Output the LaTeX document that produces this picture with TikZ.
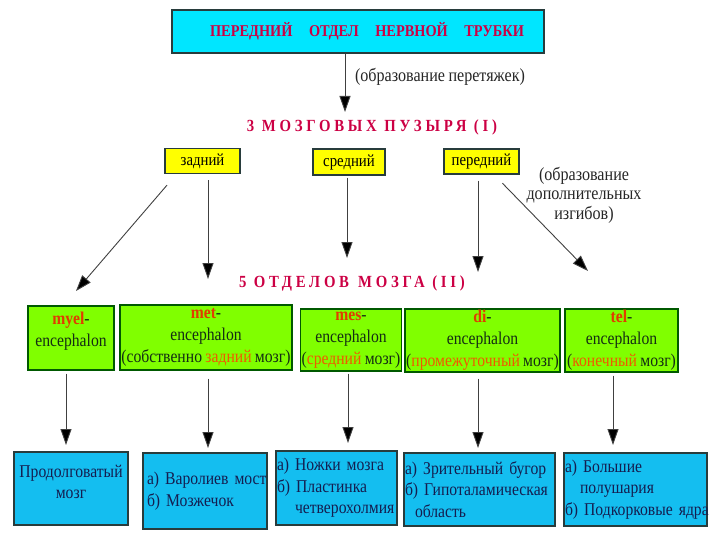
\documentclass[tikz,border=0pt]{standalone}
\usepackage{fontspec}
\setmainfont[FakeStretch=0.87,WordSpace=0.85]{Liberation Serif}
\newfontfamily\spacedfont[FakeStretch=0.87,LetterSpace=22]{Liberation Serif}
\usetikzlibrary{arrows.meta}
\definecolor{crimson}{RGB}{204,0,68}
\definecolor{topfill}{RGB}{0,230,255}
\definecolor{bluefill}{RGB}{20,190,240}
\definecolor{greenfill}{RGB}{128,255,0}
\definecolor{yellowfill}{RGB}{255,255,0}
\definecolor{pretext}{RGB}{225,60,0}
\definecolor{acctext}{RGB}{240,90,0}
\definecolor{darkgreen}{RGB}{20,45,20}
\definecolor{navytext}{RGB}{20,30,80}
\definecolor{boxline}{RGB}{40,60,60}
\newcommand{\pre}[1]{\textbf{\textcolor{pretext}{#1}}}
\newcommand{\acc}[1]{\textcolor{acctext}{#1}}
\newcommand{\bline}[1]{\mbox{#1}}
\tikzset{
  basebox/.style={draw=boxline, line width=1.2pt, inner sep=1pt},
  topbox/.style={basebox, fill=topfill, minimum width=372pt, minimum height=43pt,
     font=\fontsize{16.5}{19}\selectfont\bfseries, text=crimson},
  ybox/.style={basebox, fill=yellowfill, minimum height=25pt,
     font=\fontsize{17}{20}\selectfont, text=black},
  gbox/.style={basebox, draw=green!35!black, fill=greenfill, align=center,
     font=\fontsize{18}{22}\selectfont, text=darkgreen},
  bbox/.style={basebox, fill=bluefill, align=left,
     font=\fontsize{18}{21.5}\selectfont, text=navytext},
  heading/.style={font=\fontsize{17}{20}\selectfont\spacedfont\bfseries, text=crimson},
  note/.style={font=\fontsize{18.5}{19.5}\selectfont, text=black!85, align=center},
  arr/.style={draw=black!75, line width=0.9pt, -{Triangle[width=11pt,length=16pt,fill=black]}}
}
\begin{document}
\begin{tikzpicture}[x=1pt,y=-1pt]
\useasboundingbox (0,0) rectangle (720,540);

% top
\node[topbox] (top) at (358,31.5) {\hspace*{18pt}ПЕРЕДНИЙ\quad ОТДЕЛ\quad НЕРВНОЙ\quad ТРУБКИ};
\coordinate (pz) at (345,112);
\draw[arr] (top.south -| pz) -- (pz);
\node[note] (lab1) at (440,77) {(образование перетяжек)};
\node[heading] (h3) at (372,127) {3 МОЗГОВЫХ ПУЗЫРЯ (I)};

% yellow boxes
\node[ybox, minimum width=75pt] (zad) at (202.5,161) {задний};
\node[ybox, minimum width=72pt, minimum height=26pt] (sred) at (349,162) {средний};
\node[ybox, minimum width=75pt] (pered) at (481.5,161.5) {передний};

\coordinate (e1) at (76,291);
\coordinate (e2) at (208,279);
\coordinate (e3) at (347,258);
\coordinate (e4) at (478,272);
\coordinate (e5) at (588,271);
\draw[arr, shorten <=14.5pt] ([xshift=-26pt]zad.south) -- (e1);
\draw[arr, shorten <=6pt] (zad.south -| e2) -- (e2);
\draw[arr, shorten <=2pt] (sred.south -| e3) -- (e3);
\draw[arr, shorten <=6pt] (pered.south -| e4) -- (e4);
\draw[arr, shorten <=12pt] ([xshift=12.5pt]pered.south) -- (e5);

\node[note] (lab2) at (584,195) {(образование\\дополнительных\\изгибов)};
\node[heading] (h5) at (352,283) {5 ОТДЕЛОВ\hspace{9pt}МОЗГА (II)};

% green boxes
\node[gbox, minimum width=86pt, minimum height=64pt] (myel) at (71,338)
  {\pre{myel}-\\encephalon\\[-4pt]};
\node[gbox, minimum width=172pt, minimum height=65pt] (met) at (206,337.5)
  {\pre{met}-\\encephalon\\(собственно \acc{задний} мозг)};
\node[gbox, minimum width=98pt, minimum height=62pt] (mes) at (351,340)
  {\pre{mes}-\\encephalon\\(\acc{средний} мозг)};
\node[gbox, minimum width=155pt, minimum height=63pt] (di) at (482.5,340.5)
  {\pre{di}-\\encephalon\\(\acc{промежуточный} мозг)};
\node[gbox, minimum width=113pt, minimum height=63pt] (tel) at (621.5,340.5)
  {\pre{tel}-\\encephalon\\(\acc{конечный} мозг)};

\coordinate (f1) at (66,445);
\coordinate (f2) at (208,448);
\coordinate (f3) at (348,443);
\coordinate (f4) at (478,448);
\coordinate (f5) at (613,445);
\draw[arr, shorten <=3pt] (myel.south -| f1) -- (f1);
\draw[arr, shorten <=8pt] (met.south -| f2) -- (f2);
\draw[arr, shorten <=2pt] (mes.south -| f3) -- (f3);
\draw[arr, shorten <=6pt] (di.south -| f4) -- (f4);
\draw[arr, shorten <=3pt] (tel.south -| f5) -- (f5);

% blue boxes
\node[bbox, align=center, minimum width=114pt, minimum height=73pt] (b1) at (71,488.5)
  {Продолговатый\\мозг\\[-8pt]};
\node[bbox, text width=116pt, inner xsep=4pt, minimum height=76pt] (b2) at (205,491)
  {\bline{а) Варолиев мост}\\\bline{б) Мозжечок}};
\node[bbox, text width=119pt, inner xsep=1pt, minimum height=74pt] (b3) at (336.5,488)
  {\bline{а) Ножки мозга}\\\bline{б) Пластинка}\\\bline{\hspace*{18pt}четверохолмия}};
\node[bbox, text width=149pt, inner xsep=1pt, minimum height=73pt] (b4) at (479.5,489.5)
  {\bline{а) Зрительный бугор}\\\bline{б) Гипоталамическая}\\\bline{\hspace*{10pt}область}};
\node[bbox, text width=141pt, inner xsep=1pt, minimum height=73pt] (b5) at (635.5,489.5)
  {\bline{а) Большие}\\\bline{\hspace*{15pt}полушария}\\\bline{б) Подкорковые ядра}};
\end{tikzpicture}
\end{document}
